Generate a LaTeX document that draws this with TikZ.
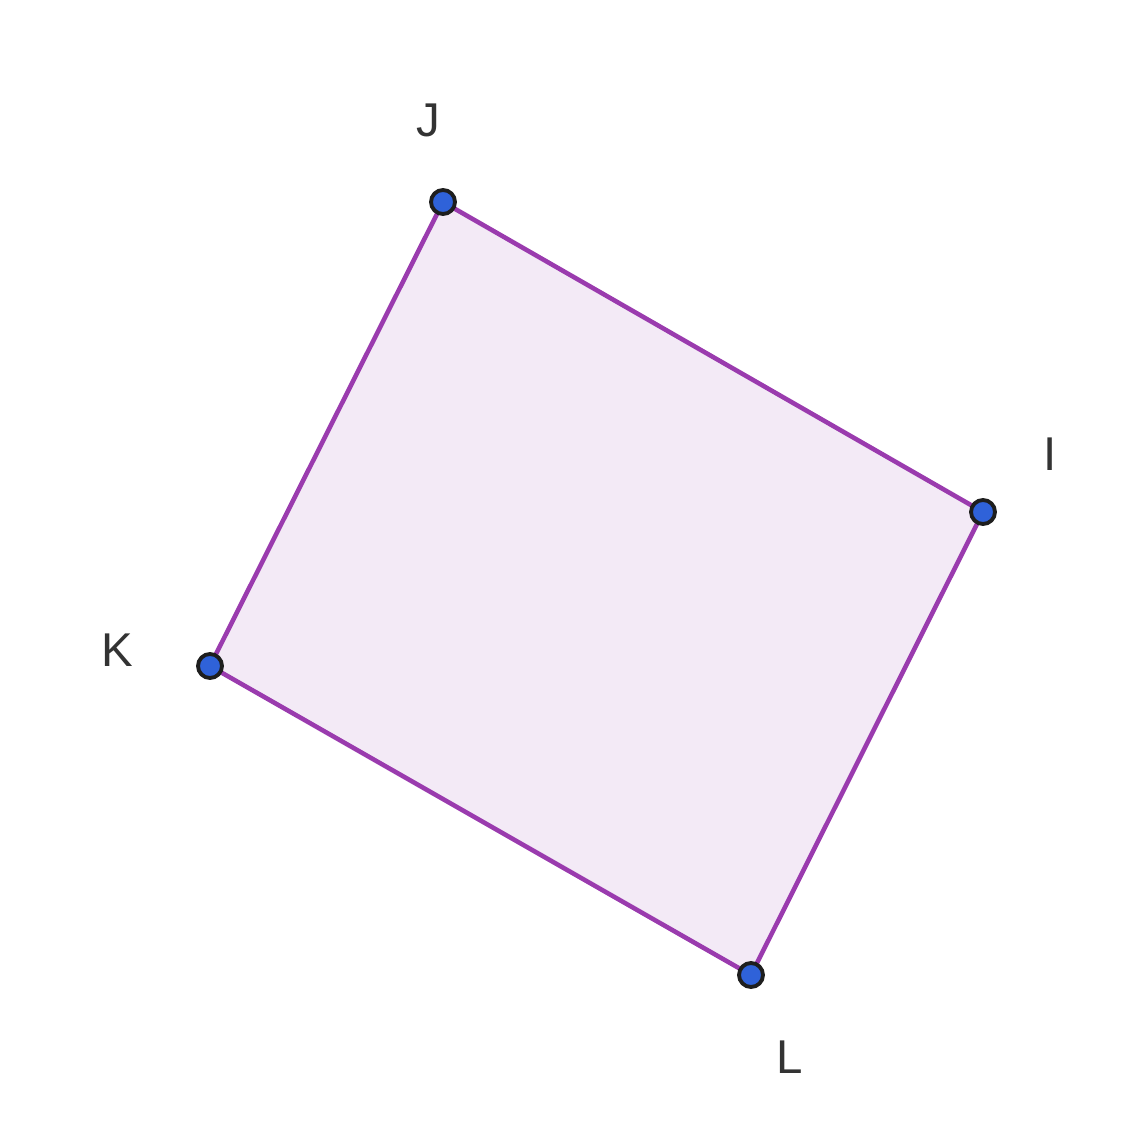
\documentclass[tikz,border=0pt]{standalone}
\usepackage{fontspec}
\setsansfont{Liberation Sans}
\usetikzlibrary{positioning}
\definecolor{quadedge}{HTML}{9A3BAE}
\definecolor{quadfill}{HTML}{F3EAF6}
\definecolor{ptblue}{HTML}{2F62D9}
\definecolor{ptrim}{HTML}{1E1E1E}
\definecolor{lblgray}{HTML}{333333}
\begin{document}
\begin{tikzpicture}[x=0.02cm, y=0.02cm]
  \tikzset{vertex/.style={circle, fill=ptblue, draw=ptrim, line width=2.2pt, minimum size=0.48cm, inner sep=0},
           vlabel/.style={text=lblgray, font=\sffamily\fontsize{27}{30}\selectfont, inner sep=0}}
  \useasboundingbox (0,0) rectangle (1145,1130);
  % corners
  \coordinate (J) at (443,928);
  \coordinate (I) at (983,618);
  \coordinate (K) at (210,464);
  \coordinate (L) at (751,155);
  % quadrilateral
  \filldraw[fill=quadfill, draw=quadedge, line width=2.6pt, line join=round] (J) -- (I) -- (L) -- (K) -- cycle;
  % points
  \node[vertex] (pJ) at (J) {};
  \node[vertex] (pI) at (I) {};
  \node[vertex] (pK) at (K) {};
  \node[vertex] (pL) at (L) {};
  % labels
  \node[vlabel] (lJ) at (428,1010) {J};
  \node[vlabel] (lI) at (1050,676) {I};
  \node[vlabel] (lK) at (117,480) {K};
  \node[vlabel] (lL) at (790,73) {L};
\end{tikzpicture}
\end{document}
